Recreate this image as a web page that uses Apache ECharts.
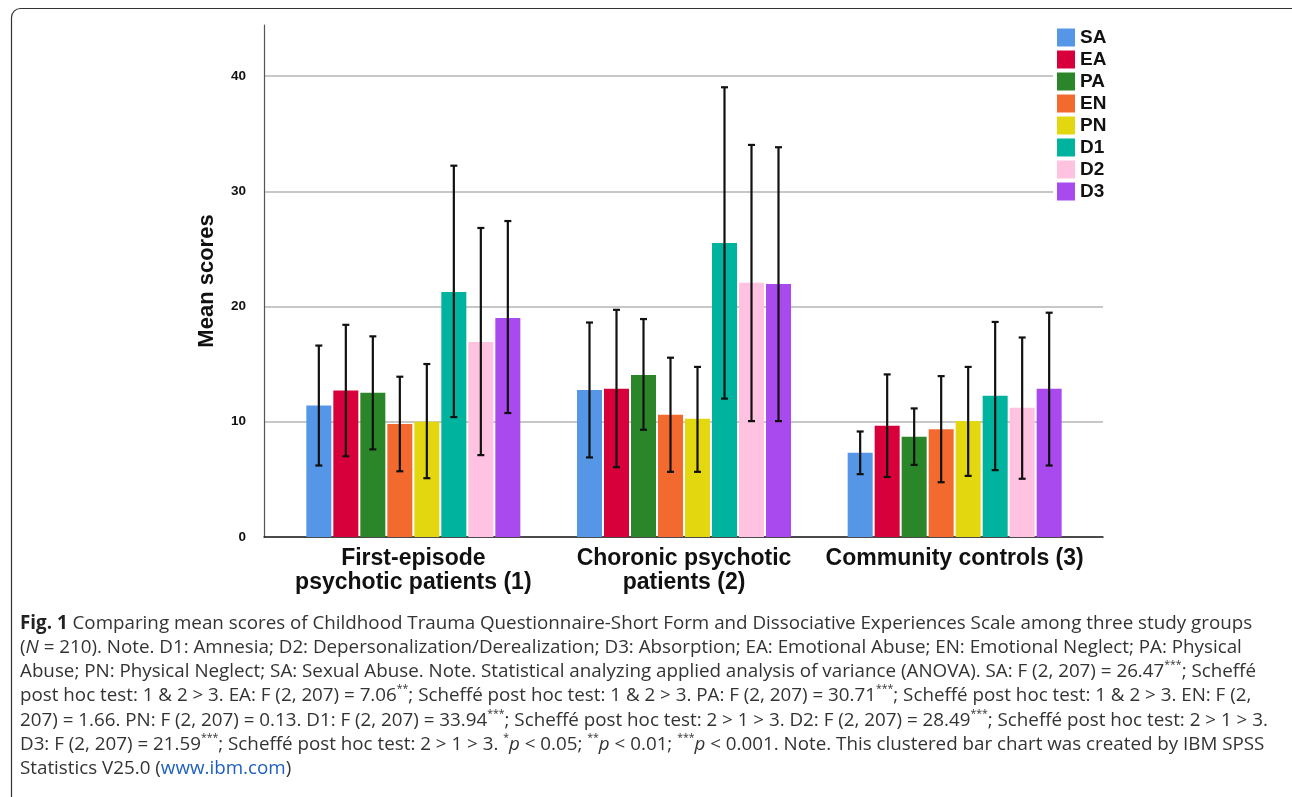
<!DOCTYPE html>
<html>
<head>
<meta charset="utf-8">
<script src="https://cdn.jsdelivr.net/npm/echarts@6/dist/echarts.min.js"></script>
<style>
html,body{margin:0;padding:0;background:#fff;}
#chart{width:1292px;height:797px;}
</style>
</head>
<body>
<div id="chart"></div>
<script>
// ---- Data ----
const categories = ['First-episode\npsychotic patients (1)', 'Choronic psychotic\npatients (2)', 'Community controls (3)'];
const seriesNames = ['SA', 'EA', 'PA', 'EN', 'PN', 'D1', 'D2', 'D3'];
const colors = ['#5596E6', '#D8003A', '#2A8628', '#F36A2E', '#E3D80F', '#00B39F', '#FFC2E0', '#A94AEF'];
const yTicks = [0, 10, 20, 30, 40];

const SA_mean = [11.4, 12.75, 7.3];
const SA_lo   = [6.2, 6.9, 5.45];
const SA_hi   = [16.6, 18.6, 9.15];
const EA_mean = [12.7, 12.85, 9.65];
const EA_lo   = [7.0, 6.05, 5.2];
const EA_hi   = [18.4, 19.7, 14.1];
const PA_mean = [12.5, 14.05, 8.7];
const PA_lo   = [7.6, 9.3, 6.25];
const PA_hi   = [17.4, 18.9, 11.15];
const EN_mean = [9.8, 10.6, 9.35];
const EN_lo   = [5.7, 5.65, 4.75];
const EN_hi   = [13.9, 15.55, 13.95];
const PN_mean = [10.0, 10.25, 10.05];
const PN_lo   = [5.1, 5.65, 5.3];
const PN_hi   = [15.0, 14.75, 14.75];
const D1_mean = [21.25, 25.5, 12.25];
const D1_lo   = [10.4, 12.0, 5.8];
const D1_hi   = [32.2, 39.0, 18.65];
const D2_mean = [16.9, 22.05, 11.2];
const D2_lo   = [7.1, 10.05, 5.05];
const D2_hi   = [26.8, 34.0, 17.3];
const D3_mean = [19.0, 21.95, 12.85];
const D3_lo   = [10.75, 10.05, 6.2];
const D3_hi   = [27.4, 33.8, 19.45];

const means = [SA_mean, EA_mean, PA_mean, EN_mean, PN_mean, D1_mean, D2_mean, D3_mean];
const lows  = [SA_lo, EA_lo, PA_lo, EN_lo, PN_lo, D1_lo, D2_lo, D3_lo];
const highs = [SA_hi, EA_hi, PA_hi, EN_hi, PN_hi, D1_hi, D2_hi, D3_hi];

// ---- Layout ----
const BAR_W = 25, BAR_GAP = 2;
const chartFont = '"Liberation Sans", Arial, sans-serif';

const caption =
  '{b|Fig. 1} Comparing mean scores of Childhood Trauma Questionnaire-Short Form and Dissociative Experiences Scale among three study groups\n' +
  '({i|N} = 210). Note. D1: Amnesia; D2: Depersonalization/Derealization; D3: Absorption; EA: Emotional Abuse; EN: Emotional Neglect; PA: Physical\n' +
  'Abuse; PN: Physical Neglect; SA: Sexual Abuse. Note. Statistical analyzing applied analysis of variance (ANOVA). SA: F (2, 207) = 26.47{s|***}; Scheffé\n' +
  'post hoc test: 1 & 2 > 3. EA: F (2, 207) = 7.06{s|**}; Scheffé post hoc test: 1 & 2 > 3. PA: F (2, 207) = 30.71{s|***}; Scheffé post hoc test: 1 & 2 > 3. EN: F (2,\n' +
  '207) = 1.66. PN: F (2, 207) = 0.13. D1: F (2, 207) = 33.94{s|***}; Scheffé post hoc test: 2 > 1 > 3. D2: F (2, 207) = 28.49{s|***}; Scheffé post hoc test: 2 > 1 > 3.\n' +
  'D3: F (2, 207) = 21.59{s|***}; Scheffé post hoc test: 2 > 1 > 3. {s|*}{i|p} < 0.05; {s|**}{i|p} < 0.01; {s|***}{i|p} < 0.001. Note. This clustered bar chart was created by IBM SPSS\n' +
  'Statistics V25.0 ({l|www.ibm.com})';

const capBase = {fontFamily: '"Open Sans", sans-serif', fontSize: 18.8, fontWeight: 'normal', color: '#333', lineHeight: 24.3};

const series = [];
seriesNames.forEach((name, k) => {
  series.push({
    name: name,
    type: 'bar',
    xAxisIndex: 1, yAxisIndex: 1,
    barWidth: BAR_W,
    barGap: (BAR_GAP / BAR_W * 100) + '%',
    itemStyle: {color: colors[k]},
    data: means[k],
    z: 2
  });
});
seriesNames.forEach((name, k) => {
  const data = categories.map((c, i) => [i, lows[k][i], highs[k][i]]);
  series.push({
    name: name + ' err',
    type: 'custom',
    xAxisIndex: 1, yAxisIndex: 1,
    z: 5,
    silent: true,
    data: data,
    renderItem: function (params, api) {
      const ci = api.value(0);
      const lo = api.coord([ci, api.value(1)]);
      const hi = api.coord([ci, api.value(2)]);
      const off = (k - 3.5) * (BAR_W + BAR_GAP);
      const x = lo[0] + off;
      const cw = 3.5;
      const st = {stroke: '#111', lineWidth: 2.2};
      return {
        type: 'group',
        children: [
          {type: 'line', shape: {x1: x, y1: lo[1], x2: x, y2: hi[1]}, style: st},
          {type: 'line', shape: {x1: x - cw, y1: lo[1], x2: x + cw, y2: lo[1]}, style: st},
          {type: 'line', shape: {x1: x - cw, y1: hi[1], x2: x + cw, y2: hi[1]}, style: st}
        ]
      };
    }
  });
});

const richStyles = {
  b: Object.assign({}, capBase, {fontWeight: 'bold', color: '#222'}),
  i: Object.assign({}, capBase, {fontStyle: 'italic'}),
  s: Object.assign({}, capBase, {fontSize: 10.5, lineHeight: 12, verticalAlign: 'top'}),
  l: Object.assign({}, capBase, {color: '#1E5FC0'})
};
const titleStyle = Object.assign({}, capBase, {rich: richStyles});

const chart = echarts.init(document.getElementById('chart'), null, {renderer: 'canvas'});
chart.setOption({
  animation: false,
  backgroundColor: '#fff',
  title: {
    text: caption,
    left: 20, top: 611, padding: 0,
    textStyle: titleStyle
  },
  graphic: [{
    type: 'rect',
    shape: {x: 11.5, y: 8.5, width: 1290, height: 900, r: 9},
    style: {fill: null, stroke: '#333', lineWidth: 1.2},
    silent: true, z: -10
  }],
  legend: {
    data: seriesNames,
    orient: 'vertical',
    left: 1053, top: 26,
    padding: [2, 4, 2, 4],
    backgroundColor: '#fff',
    itemWidth: 18, itemHeight: 18, itemGap: 3,
    icon: 'rect',
    textStyle: {fontFamily: chartFont, fontWeight: 'bold', fontSize: 19, color: '#111'},
    z: 10
  },
  grid: [
    {left: 264, right: 189, top: 76, bottom: 260},
    {left: 278, right: 202, top: 25, bottom: 260}
  ],
  xAxis: [
    {
      type: 'category', gridIndex: 0, data: categories,
      axisLine: {show: true, lineStyle: {color: '#222', width: 1.5}},
      axisTick: {show: false}, axisLabel: {show: false}, splitLine: {show: false}
    },
    {
      type: 'category', gridIndex: 1, data: categories,
      axisLine: {show: false}, axisTick: {show: false},
      axisLabel: {
        fontFamily: chartFont, fontWeight: 'bold', fontSize: 23, color: '#111',
        lineHeight: 24, margin: 10, interval: 0
      }
    }
  ],
  yAxis: [
    {
      type: 'value', gridIndex: 0, min: 0, max: 40, interval: 10,
      axisLine: {show: false}, axisTick: {show: false},
      axisLabel: {fontFamily: chartFont, fontWeight: 'bold', fontSize: 13.5, color: '#111', margin: 18},
      splitLine: {show: true, lineStyle: {color: '#b5b5b5', width: 1.5}}
    },
    {
      type: 'value', gridIndex: 1, min: 0, max: 44.4,
      offset: 14,
      axisLine: {show: true, lineStyle: {color: '#555', width: 1.2}},
      axisTick: {show: false}, axisLabel: {show: false}, splitLine: {show: false},
      name: 'Mean scores', nameLocation: 'middle', nameGap: 46, nameRotate: 90,
      nameTextStyle: {fontFamily: chartFont, fontWeight: 'bold', fontSize: 22, color: '#111'}
    }
  ],
  series: series
});
</script>
</body>
</html>
